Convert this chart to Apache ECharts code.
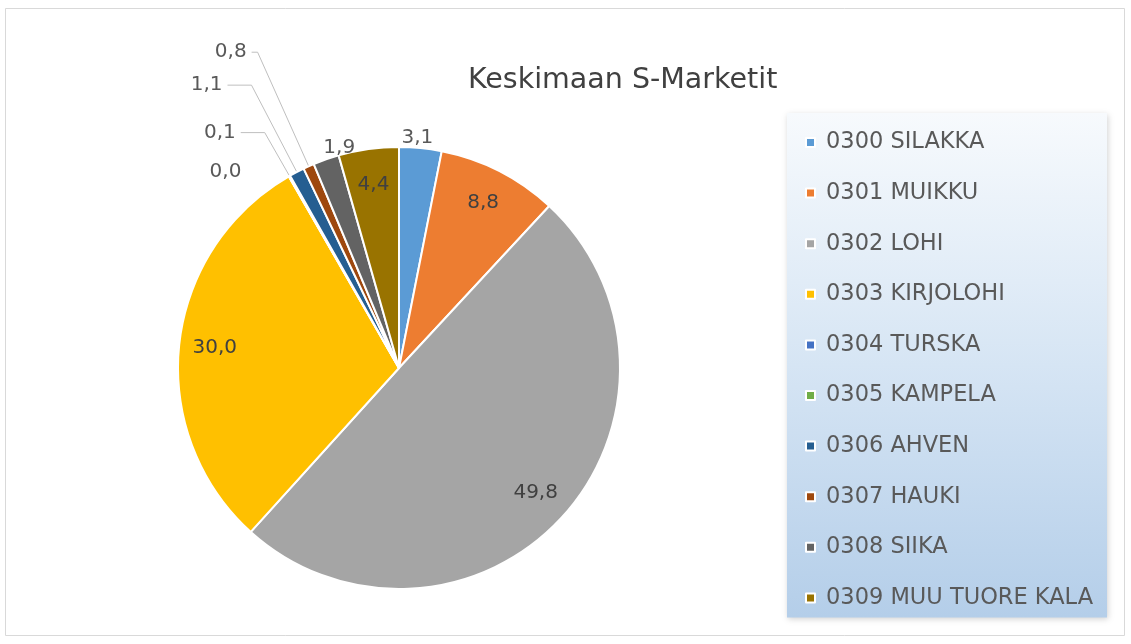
<!DOCTYPE html>
<html>
<head>
<meta charset="utf-8">
<script src="https://cdn.jsdelivr.net/npm/echarts@6/dist/echarts.min.js"></script>
<style>
  html, body { margin: 0; padding: 0; background: #fff; }
  #chart { width: 1131px; height: 644px; }
</style>
</head>
<body>
<div id="chart"></div>
<script>
(() => {
    "use strict";
    // data (percent shares)
    const categories = [ "0300 SILAKKA", "0301 MUIKKU", "0302 LOHI", "0303 KIRJOLOHI", "0304 TURSKA",
        "0305 KAMPELA", "0306 AHVEN", "0307 HAUKI", "0308 SIIKA", "0309 MUU TUORE KALA" ];
    const shares = [ 3.1, 8.8, 49.8, 30.0, 0.0, 0.1, 1.1, 0.8, 1.9, 4.4 ];
    const colors = [ "#5B9BD5", "#ED7D31", "#A5A5A5", "#FFC000", "#4472C4",
        "#70AD47", "#255E91", "#9E480E", "#636363", "#997300" ];
    const chartTitle = "Keskimaan S-Marketit";

    // which labels sit inside the slice, and leader line setup for the others
    const insideLabels = [ "0301 MUIKKU", "0302 LOHI", "0303 KIRJOLOHI", "0309 MUU TUORE KALA" ];
    const outsideStyle = {
        "0300 SILAKKA": { len: 10, len2: -25, line: false },
        "0304 TURSKA": { len: 5, len2: 40, line: false },
        "0305 KAMPELA": { len: 50, len2: 24, line: true },
        "0306 AHVEN": { len: 98, len2: 24, line: true },
        "0307 HAUKI": { len: 125, len2: 6, line: true },
        "0308 SIIKA": { len: 12, len2: -38, line: false }
    };

    const fmt = p => p.value.toFixed(1).replace(".", ",");
    const font = "'DejaVu Sans', 'Noto Sans', sans-serif";
    const cx = 399, cy = 368, R = 221;

    const mainData = categories.map((name, i) => {
        const st = outsideStyle[name];
        return {
            name: name,
            value: shares[i],
            itemStyle: { color: colors[i] },
            label: { show: !!st },
            labelLine: st ? { show: st.line, length: st.len, length2: st.len2 } : { show: false }
        };
    });
    const ringData = categories.map((name, i) => ({
        name: name,
        value: shares[i],
        label: { show: insideLabels.indexOf(name) >= 0 }
    }));

    const myChart = echarts.init(document.getElementById("chart"));
    const option = {
        backgroundColor: "#fff",
        animation: false,
        title: {
            text: chartTitle,
            left: 463,
            top: 61,
            textStyle: { fontFamily: font, fontSize: 28.5, fontWeight: "normal", color: "#404040" }
        },
        graphic: [ {
            type: "rect",
            shape: { x: 5.5, y: 8.5, width: 1119, height: 627 },
            style: { fill: "none", stroke: "#d9d9d9", lineWidth: 1 },
            silent: true
        } ],
        legend: {
            data: categories,
            orient: "vertical",
            left: 787,
            top: 113,
            icon: "rect",
            itemWidth: 9,
            itemHeight: 9,
            itemGap: 27.6,
            padding: [ 18, 14, 8, 18 ],
            backgroundColor: {
                type: "linear", x: 0, y: 0, x2: 0, y2: 1,
                colorStops: [ { offset: 0, color: "#f7fafd" }, { offset: 0.5, color: "#d6e5f4" }, { offset: 1, color: "#b4cee9" } ]
            },
            shadowBlur: 6,
            shadowColor: "rgba(0,0,0,0.18)",
            shadowOffsetX: 1,
            shadowOffsetY: 2,
            textStyle: { fontFamily: font, fontSize: 22.5, color: "#595959", lineHeight: 22, padding: [ 0, 0, 0, 6 ] }
        },
        series: [ {
            type: "pie",
            center: [ cx, cy ],
            radius: [ 0, R ],
            startAngle: 90,
            clockwise: true,
            avoidLabelOverlap: false,
            silent: true,
            itemStyle: { borderColor: "#fff", borderWidth: 2 },
            label: {
                position: "outside",
                formatter: fmt,
                fontFamily: font,
                fontSize: 20,
                color: "#595959",
                distanceToLabelLine: 5
            },
            labelLine: { lineStyle: { color: "#bfbfbf", width: 1 } },
            data: mainData
        }, {
            type: "pie",
            center: [ cx, cy ],
            radius: [ R * 0.65, R ],
            startAngle: 90,
            clockwise: true,
            silent: true,
            avoidLabelOverlap: false,
            itemStyle: { color: "rgba(0,0,0,0)" },
            label: {
                position: "inside",
                formatter: fmt,
                fontFamily: font,
                fontSize: 20,
                color: "#404040"
            },
            labelLine: { show: false },
            data: ringData
        } ]
    };
    myChart.setOption(option);
})();
</script>
</body>
</html>
